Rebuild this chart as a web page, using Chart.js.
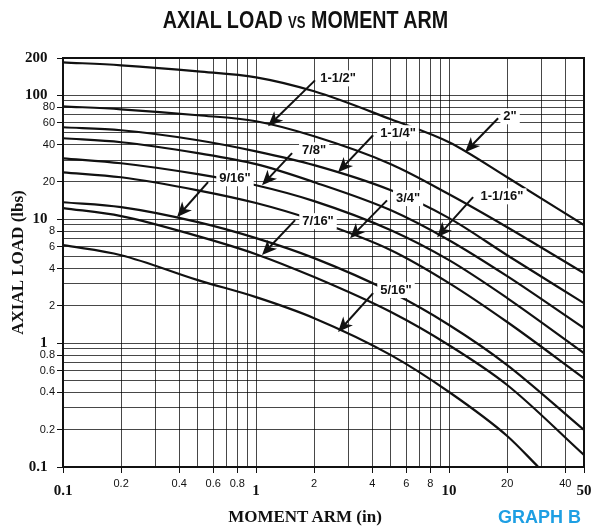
<!DOCTYPE html>
<html><head><meta charset="utf-8">
<script src="https://cdn.jsdelivr.net/npm/chart.js@4/dist/chart.umd.min.js"></script>
<style>
body{margin:0;background:#fff;}
#wrap{position:relative;width:598px;height:529px;overflow:hidden;}
canvas{position:absolute;left:0;top:0;}
#title{position:absolute;left:0;top:5px;width:611px;text-align:center;font:bold 24px "Liberation Sans",Arial,sans-serif;color:#111;white-space:nowrap;line-height:30px;transform:scaleX(0.82);transform-origin:305px 50%;}
#title .vs{font-size:16px;}
#xtitle{position:absolute;left:0;top:507px;width:610px;text-align:center;font:bold 17px "Liberation Serif",serif;color:#111;line-height:20px;}
#graphb{position:absolute;left:498px;top:507px;font:bold 18px "Liberation Sans",Arial,sans-serif;color:#1e9fe3;line-height:20px;}
</style></head>
<body><div id="wrap"><canvas id="c" width="598" height="529"></canvas>
<div id="title">AXIAL LOAD <span class="vs">VS</span> MOMENT ARM</div>
<div id="xtitle">MOMENT ARM (in)</div>
<div id="graphb">GRAPH B</div></div>
<script>
// ---- data ----
const momentArm    = [0.1, 0.2, 0.5, 1, 2, 5, 10, 20, 50];
const momentArm516 = [0.1, 0.2, 0.5, 1, 2, 5, 10, 20, 29];
const load2     = [184.6, 174.6, 156.1, 139.7, 107.7, 64.0, 41.8, 21.8, 8.95];
const load1_1_2 = [81.5, 77.1, 69.0, 61.7, 46.7, 27.8, 15.9, 8.62, 3.67];
const load1_1_4 = [55.2, 52.2, 43.4, 35.3, 27.3, 17.1, 10.2, 5.12, 2.10];
const load1_1_16= [45.0, 41.8, 34.1, 27.8, 19.9, 11.8, 6.77, 3.47, 1.32];
const load7_8   = [31.0, 28.3, 23.1, 18.8, 14.0, 8.15, 4.67, 2.31, 0.83];
const load3_4   = [23.9, 21.8, 17.1, 13.5, 9.8, 5.62, 3.05, 1.48, 0.52];
const load9_16  = [13.7, 12.5, 9.46, 7.03, 4.85, 2.58, 1.40, 0.665, 0.199];
const load7_16  = [12.3, 10.6, 7.30, 5.22, 3.41, 1.78, 0.96, 0.459, 0.125];
const load5_16  = [6.17, 5.12, 3.22, 2.35, 1.59, 0.80, 0.403, 0.178, 0.1];

const xGridValues = [0.1,0.2,0.3,0.4,0.5,0.6,0.7,0.8,0.9,1,2,3,4,5,6,7,8,9,10,20,30,40,50];
const yGridValues = [0.1,0.2,0.3,0.4,0.5,0.6,0.7,0.8,0.9,1,2,3,4,5,6,7,8,9,10,20,30,40,50,60,70,80,90,100,200];
const xTickLabels = [0.1,0.2,0.4,0.6,0.8,1,2,4,6,8,10,20,40,50];
const yTickLabels = [0.1,0.2,0.4,0.6,0.8,1,2,4,6,8,10,20,40,60,80,100,200];
const boldTicks   = [0.1,1,10,50,100,200];

// curve labels (text anchor, arrow start, arrow tip) in data units
const annText  = ['1-1/2"','2"','1-1/4"','7/8"','9/16"','3/4"','1-1/16"','7/16"','5/16"'];
const annTextX = [2.66, 20.7, 5.44, 2.0, 0.778, 6.13, 18.8, 2.095, 5.31];
const annTextY = [137, 67.7, 49.4, 36.0, 21.4, 14.8, 15.3, 9.64, 2.68];
const annFromX = [2.02, 17.95, 4.04, 1.537, 0.564, 4.77, 13.32, 1.593, 4.04];
const annFromY = [132, 65.2, 47.6, 34.1, 19.9, 14.2, 15.05, 9.82, 2.53];
const annTipX  = [1.154, 12.1, 2.66, 1.074, 0.390, 3.07, 8.67, 1.074, 2.66];
const annTipY  = [56.2, 34.7, 23.9, 18.8, 10.4, 7.03, 7.16, 5.13, 1.227];

const series = [
  ['2"', momentArm, load2], ['1-1/2"', momentArm, load1_1_2], ['1-1/4"', momentArm, load1_1_4],
  ['1-1/16"', momentArm, load1_1_16], ['7/8"', momentArm, load7_8], ['3/4"', momentArm, load3_4],
  ['9/16"', momentArm, load9_16], ['7/16"', momentArm, load7_16], ['5/16"', momentArm516, load5_16]
];

const datasets = series.map(([name, xs, ys]) => ({
  label: name,
  data: xs.map((v, i) => ({x: v, y: ys[i]})),
  borderColor: '#111', borderWidth: 2.2, pointRadius: 0, fill: false,
  cubicInterpolationMode: 'monotone'
}));

const boldFont = {family: '"Liberation Serif", serif', weight: 'bold', size: 15};
const overlay = {
  id: 'overlay',
  afterDatasetsDraw(chart) {
    const {ctx, scales: {x, y}} = chart;
    ctx.save();
    ctx.strokeStyle = '#111'; ctx.fillStyle = '#111'; ctx.lineWidth = 2;
    for (let i = 0; i < annText.length; i++) {
      const x0 = x.getPixelForValue(annFromX[i]), y0 = y.getPixelForValue(annFromY[i]);
      const x1 = x.getPixelForValue(annTipX[i]),  y1 = y.getPixelForValue(annTipY[i]);
      const ang = Math.atan2(y1 - y0, x1 - x0), c = Math.cos(ang), s = Math.sin(ang);
      const L = 15, W = 6.5;
      ctx.beginPath(); ctx.moveTo(x0, y0); ctx.lineTo(x1 - L * 0.7 * c, y1 - L * 0.7 * s); ctx.stroke();
      ctx.beginPath(); ctx.moveTo(x1, y1);
      ctx.lineTo(x1 - L * c + W * s, y1 - L * s - W * c);
      ctx.lineTo(x1 - L * 0.72 * c, y1 - L * 0.72 * s);
      ctx.lineTo(x1 - L * c - W * s, y1 - L * s + W * c);
      ctx.closePath(); ctx.fill();
    }
    ctx.font = 'bold 13px "Liberation Sans", Arial, sans-serif';
    ctx.textAlign = 'center'; ctx.textBaseline = 'middle';
    for (let i = 0; i < annText.length; i++) {
      const tx = x.getPixelForValue(annTextX[i]), ty = y.getPixelForValue(annTextY[i]);
      const w = ctx.measureText(annText[i]).width;
      ctx.fillStyle = '#fff'; ctx.fillRect(tx - w / 2 - 3, ty - 8, w + 6, 16);
      ctx.fillStyle = '#111'; ctx.fillText(annText[i], tx, ty + 0.5);
    }
    ctx.restore();
  },
  afterDraw(chart) {
    const {ctx, chartArea: a} = chart;
    ctx.save(); ctx.strokeStyle = '#111'; ctx.lineWidth = 2;
    ctx.strokeRect(a.left, a.top, a.right - a.left, a.bottom - a.top);
    ctx.restore();
  }
};

new Chart(document.getElementById('c'), {
  type: 'line',
  data: {datasets},
  plugins: [overlay],
  options: {
    responsive: false, animation: false, devicePixelRatio: 1,
    layout: {padding: {top: 58, right: 14, left: 0, bottom: 0}},
    plugins: {legend: {display: false}, title: {display: false}, tooltip: {enabled: false}},
    scales: {
      x: {
        type: 'logarithmic', min: 0.1, max: 50,
        afterBuildTicks: s => { s.ticks = xGridValues.map(v => ({value: v})); },
        afterFit: s => { s.height = 62; },
        ticks: {
          autoSkip: false, maxRotation: 0, minRotation: 0, padding: 3, color: '#111',
          callback: v => xTickLabels.includes(v) ? String(v) : '',
          font: c => boldTicks.includes(c.tick && c.tick.value)
            ? Object.assign({}, boldFont, {lineHeight: 2.0})
            : {family: '"Liberation Sans", Arial, sans-serif', size: 11, lineHeight: 1.45}
        },
        grid: {
          color: 'rgba(0,0,0,0.72)', lineWidth: 1, tickLength: 6,
          tickColor: c => xTickLabels.includes(c.tick && c.tick.value) ? '#111' : 'rgba(0,0,0,0)'
        },
        border: {color: '#111', width: 2}
      },
      y: {
        type: 'logarithmic', min: 0.1, max: 200,
        afterBuildTicks: s => { s.ticks = yGridValues.map(v => ({value: v})); },
        afterFit: s => { s.width = 63; },
        ticks: {
          autoSkip: false, padding: 2, color: '#111',
          callback: v => yTickLabels.includes(v) ? (boldTicks.includes(v) ? String(v) + '  ' : String(v)) : '',
          font: c => boldTicks.includes(c.tick && c.tick.value)
            ? boldFont
            : {family: '"Liberation Sans", Arial, sans-serif', size: 11}
        },
        grid: {
          color: 'rgba(0,0,0,0.72)', lineWidth: 1, tickLength: 6,
          tickColor: c => yTickLabels.includes(c.tick && c.tick.value) ? '#111' : 'rgba(0,0,0,0)'
        },
        border: {color: '#111', width: 2},
        title: {display: true, text: 'AXIAL LOAD (lbs)', color: '#111',
          font: {family: '"Liberation Serif", serif', weight: 'bold', size: 17}, padding: {top: 8, bottom: 0}}
      }
    }
  }
});
</script>
</body></html>
